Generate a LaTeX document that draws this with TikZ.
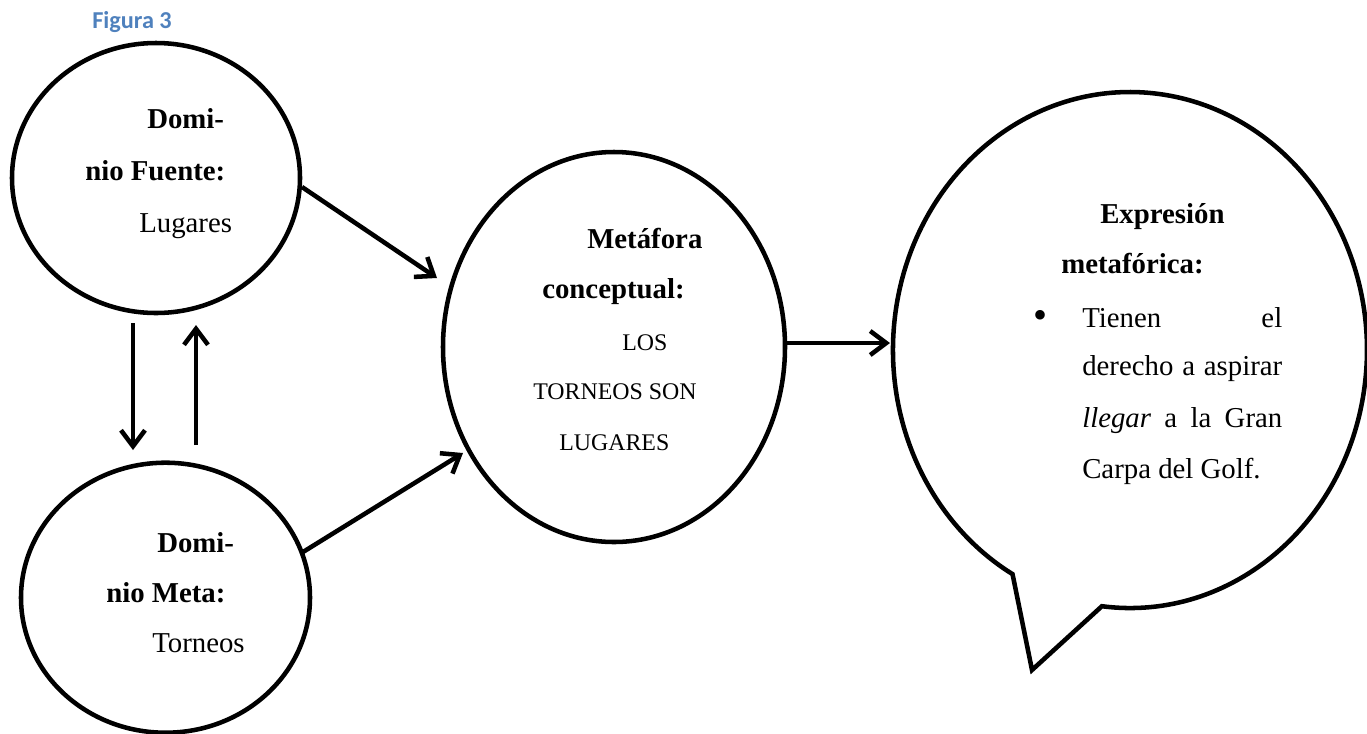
\documentclass[tikz,border=0pt]{standalone}
\usepackage{fontspec}
\setmainfont{Liberation Serif}
\newfontfamily\figfont{Carlito}
\usetikzlibrary{shapes.geometric,arrows.meta,calc}
\definecolor{figblue}{RGB}{79,129,189}
\begin{document}
\begin{tikzpicture}[x=0.75pt,y=-0.75pt,
  blob/.style={ellipse,draw=black,line width=3.4pt,inner sep=0pt,outer sep=0pt},
  ghost/.style={ellipse,inner sep=0pt,outer sep=0pt},
  arr/.style={line width=3.4pt,-{Straight Barb[length=12pt,width=18pt]}},
  txt/.style={anchor=base west,inner sep=0pt,font=\fontsize{21.6}{26}\selectfont},
  btxt/.style={txt,font=\fontsize{21.6}{26}\selectfont\bfseries},
  stxt/.style={anchor=base west,inner sep=0pt,font=\fontsize{17.9}{22}\selectfont}]
\useasboundingbox (0,0) rectangle (1367,733);

% caption
\node[anchor=base west,inner sep=0pt,text=figblue,font=\figfont\fontsize{18.2}{21}\selectfont\bfseries] (fig) at (92,28) {Figura 3};

% shapes
\node[blob,minimum width=216pt,minimum height=202.5pt] (c1) at (156,178) {};
\node[blob,minimum width=216.75pt,minimum height=202.5pt] (c2) at (165.5,597.7) {};
\node[blob,minimum width=256.5pt,minimum height=292.5pt] (mid) at (614,347) {};
\node[ghost,minimum width=355.5pt,minimum height=387pt] (bub) at (1130,350) {};
\coordinate (tip) at (1032,670);
\draw[line width=3.4pt,line join=miter] (1101.9,606.2) arc[start angle=96.8,end angle=-240.3,x radius=237,y radius=258] -- (tip) -- cycle;

% texts circle 1
\node[btxt] (d1a) at (147,128) {Domi-};
\node[btxt] (d1b) at (85,180) {nio Fuente:};
\node[txt] (d1c) at (139,232) {Lugares};
% texts circle 2
\node[btxt] (d2a) at (157,552) {Domi-};
\node[btxt] (d2b) at (106,602) {nio Meta:};
\node[txt] (d2c) at (152,652) {Torneos};
% texts middle
\node[btxt] (m1) at (587,248) {Metáfora};
\node[btxt] (m2) at (542,298) {conceptual:};
\node[stxt] (m3) at (622,350) {LOS};
\node[stxt] (m4) at (533,399) {TORNEOS SON};
\node[stxt] (m5) at (559,450) {LUGARES};
% texts bubble
\node[btxt] (b1) at (1100,223) {Expresión};
\node[btxt] (b2) at (1061,273) {metafórica:};
\node[anchor=base,inner sep=0pt,font=\fontsize{30}{30}\selectfont] (bul) at (1040,328) {•};
\node[txt] (b3) at (1082,327) {\makebox[150pt][s]{Tienen\hfill el}};
\node[txt] (b4) at (1082,375) {\makebox[150pt][s]{derecho a aspirar}};
\node[txt] (b5) at (1082,427) {\makebox[150pt][s]{\textit{llegar} a la Gran}};
\node[txt] (b6) at (1082,478) {Carpa del Golf.};

% connectors
\draw[arr] ($(c1.south)+(-23,10)$) -- ($(c2.north)+(-32.5,-12.7)$);
\draw[arr] ($(c2.north)+(30.5,-17.7)$) -- ($(c1.south)+(40,12)$);
\draw[arr] ($(c1.east)+(2,9)$) -- ($(mid.west)+(-6,-69)$);
\draw[arr] ($(c2.east)+(-7,-45.7)$) -- ($(mid.west)+(20,106)$);
\draw[arr] ($(mid.east)+(0,-4)$) -- ($(bub.west)+(-3,-7)$);
\end{tikzpicture}
\end{document}
